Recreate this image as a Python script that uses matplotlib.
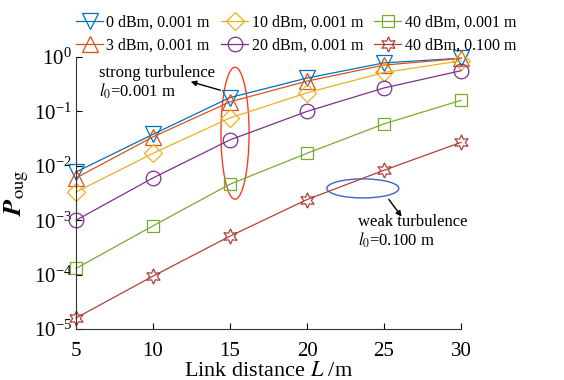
import numpy as np
import matplotlib
matplotlib.use("Agg")
import matplotlib.pyplot as plt
from matplotlib.patches import Ellipse

plt.rcParams['font.family'] = 'Liberation Serif'
plt.rcParams['mathtext.fontset'] = 'stix'

# link distance (m)
L = [5, 10, 15, 20, 25, 30]

# outage probability
p_0dbm = [7.7e-3, 0.038, 0.18, 0.41, 0.78, 0.95]
p_3dbm = [6.0e-3, 0.034, 0.15, 0.36, 0.71, 0.94]
p_10dbm = [3.3e-3, 0.017, 0.076, 0.22, 0.52, 0.85]
p_20dbm = [1.0e-3, 6.0e-3, 0.030, 0.10, 0.27, 0.56]
p_40dbm = [1.3e-4, 7.9e-4, 4.6e-3, 0.017, 0.059, 0.16]
p_40dbm_weak = [1.6e-5, 9.4e-5, 5.1e-4, 2.4e-3, 8.3e-3, 0.027]

labels = ['0 dBm, 0.001 m', '3 dBm, 0.001 m', '10 dBm, 0.001 m',
          '20 dBm, 0.001 m', '40 dBm, 0.001 m', '40 dBm, 0.100 m']
series = [p_0dbm, p_3dbm, p_10dbm, p_20dbm, p_40dbm, p_40dbm_weak]
colors = ['#0072BD', '#D95319', '#EDB120', '#7E2F8E', '#77AC30', '#B0403A']
markers = ['v', '^', 'D', 'o', 's', (6, 1, 0)]
msizes = [12, 12, 9.5, 10.5, 8, 11]

fig = plt.figure(figsize=(5.64, 3.80), dpi=100)
ax = fig.add_axes([0.1348, 0.134, 0.6826, 0.716])

lines = []
for y, lab, c, m, ms in zip(series, labels, colors, markers, msizes):
    ln, = ax.plot(L, y, color=c, marker=m, markersize=ms, markerfacecolor='none',
                  markeredgecolor=c, markeredgewidth=0.9, linewidth=0.9, label=lab,
                  clip_on=False)
    lines.append(ln)

ax.set_yscale('log')
ax.set_xlim(5, 30)
ax.set_ylim(1e-5, 1)
ax.set_xticks(L)
ax.set_yticks([1e-5, 1e-4, 1e-3, 1e-2, 1e-1, 1])
ax.minorticks_off()
ax.tick_params(direction='in', length=4, labelsize=15, width=0.8, pad=3)
ax.tick_params(axis='x', pad=9)
ax.spines['top'].set_visible(False)
ax.spines['right'].set_visible(False)
for s in ['left', 'bottom']:
    ax.spines[s].set_color('#333333')

ax.set_xlabel('Link distance $L$ /m', fontsize=16, labelpad=1)
ax.set_ylabel(r'$\mathbfit{P}_{\mathrm{oug}}$', fontsize=19, labelpad=2)

# annotations
ax.add_patch(Ellipse((0.413, 0.72), 0.073, 0.485, transform=ax.transAxes,
                     fill=False, edgecolor='#FF3B1F', linewidth=1.0))
ax.add_patch(Ellipse((0.745, 0.517), 0.187, 0.07, transform=ax.transAxes,
                     fill=False, edgecolor='#3F63C8', linewidth=1.0))
ax.text(0.06, 0.905, 'strong turbulence\n$l_0$=0.001 m', transform=ax.transAxes,
        fontsize=12, linespacing=1.05, va='center', ha='left')
ax.annotate('', xy=(0.291, 0.912), xycoords='axes fraction',
            xytext=(0.382, 0.875), textcoords='axes fraction',
            arrowprops=dict(arrowstyle='-|>', color='black', lw=1.0, mutation_scale=8))
ax.text(0.732, 0.357, 'weak turbulence\n$l_0$=0.100 m', transform=ax.transAxes,
        fontsize=12, linespacing=1.05, va='center', ha='left')
ax.annotate('', xy=(0.85, 0.405), xycoords='axes fraction',
            xytext=(0.808, 0.485), textcoords='axes fraction',
            arrowprops=dict(arrowstyle='-|>', color='black', lw=1.0, mutation_scale=8))

fig.legend(handles=lines, ncol=3, loc='upper left', bbox_to_anchor=(0.118, 0.987),
           frameon=False, fontsize=11.5, handlelength=1.7, handletextpad=0.2,
           columnspacing=0.7, labelspacing=0.45, borderaxespad=0.2)

fig.savefig('out.png', dpi=100)
